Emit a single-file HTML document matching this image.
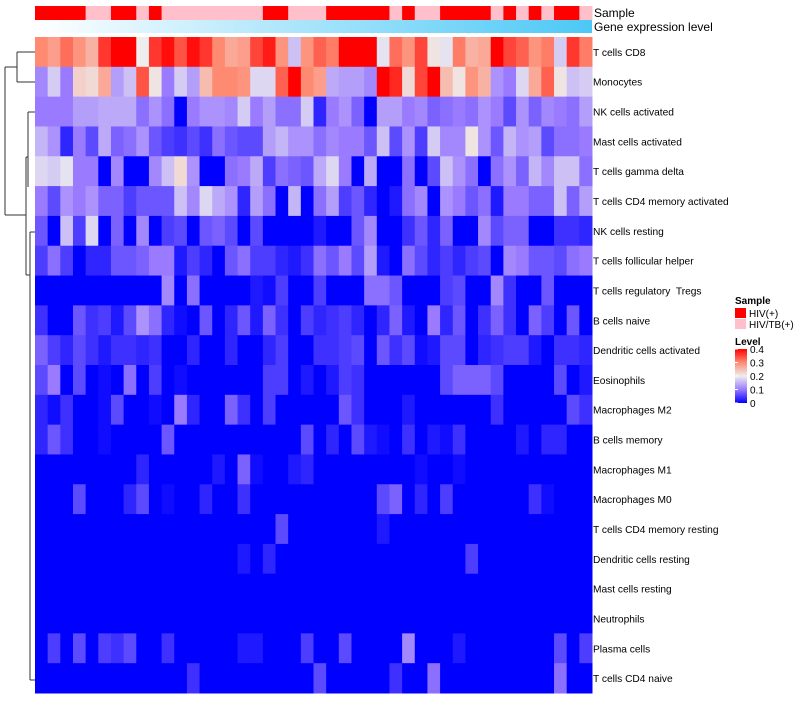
<!DOCTYPE html>
<html><head><meta charset="utf-8"><style>
body{margin:0;background:#fff;width:800px;height:700px;overflow:hidden}
svg text{font-family:"Liberation Sans",sans-serif;white-space:pre}
</style></head><body>
<svg id="chart" width="800" height="700" xmlns="http://www.w3.org/2000/svg">
<defs>
<linearGradient id="geneGrad" x1="0" x2="1" y1="0" y2="0"><stop offset="0" stop-color="#ffffff"/><stop offset="1" stop-color="#4cc8f6"/></linearGradient>
<linearGradient id="levelGrad" x1="0" x2="0" y1="1" y2="0"><stop offset="0" stop-color="#0000ff"/><stop offset="0.25" stop-color="#9a7bff"/><stop offset="0.5" stop-color="#eeeeee"/><stop offset="0.75" stop-color="#ff8a72"/><stop offset="1" stop-color="#ff0000"/></linearGradient>
</defs>
<g id="dendro" stroke="#333" stroke-width="1" fill="none">
<path d="M5,67V215M5,67H17M5,215H26M17,52V82M17,52H35M17,82H35M26,157V275M26,157H28M26,275H30M28,127V187M28,112H35M28,127V112M30,232V680M30,232H35M30,680H35"/>
</g>
<g id="cells"></g>
<g id="labels"></g>
<rect x="35" y="20" width="557" height="13" fill="url(#geneGrad)"/>
<text x="594" y="17" font-size="12">Sample</text>
<text x="594" y="31" font-size="12">Gene expression level</text>
<g>
<text x="735" y="304" font-size="10" font-weight="bold">Sample</text>
<rect x="735" y="308" width="11" height="10" fill="#ff0000"/>
<text x="749" y="317" font-size="10">HIV(+)</text>
<rect x="735" y="319" width="11" height="10" fill="#ffc0cb"/>
<text x="749" y="328" font-size="10">HIV/TB(+)</text>
<text x="735" y="345" font-size="10" font-weight="bold">Level</text>
<rect x="735" y="349" width="12" height="54" fill="url(#levelGrad)"/>
<g id="levelTicks"></g>
</g>
</svg>
<script>
const rowNames=["T cells CD8","Monocytes","NK cells activated","Mast cells activated","T cells gamma delta","T cells CD4 memory activated","NK cells resting","T cells follicular helper","T cells regulatory  Tregs","B cells naive","Dendritic cells activated","Eosinophils","Macrophages M2","B cells memory","Macrophages M1","Macrophages M0","T cells CD4 memory resting","Dendritic cells resting","Mast cells resting","Neutrophils","Plasma cells","T cells CD4 naive"];
const sampleGroups=[1,1,1,1,0,0,1,1,0,1,0,0,0,0,0,0,0,0,1,1,0,0,0,1,1,1,1,1,0,1,0,0,1,1,1,1,0,1,0,1,0,1,1,0];
const levelTicks=[0,0.1,0.2,0.3,0.4];
const r0=[0.3,0.28,0.32,0.29,0.26,0.36,0.4,0.4,0.2,0.36,0.39,0.34,0.39,0.36,0.3,0.27,0.28,0.35,0.38,0.29,0.16,0.29,0.33,0.31,0.4,0.4,0.4,0.19,0.32,0.29,0.35,0.21,0.19,0.31,0.26,0.27,0.4,0.35,0.33,0.29,0.31,0.17,0.36,0.31];
const r1=[0.11,0.17,0.1,0.23,0.22,0.27,0.13,0.16,0.34,0.21,0.1,0.17,0.13,0.25,0.3,0.3,0.29,0.18,0.18,0.33,0.4,0.3,0.28,0.14,0.13,0.13,0.11,0.4,0.37,0.22,0.35,0.4,0.25,0.21,0.29,0.26,0.12,0.1,0.18,0.27,0.33,0.21,0.16,0.17];
const r2=[0.1,0.1,0.1,0.13,0.13,0.14,0.14,0.14,0.09,0.12,0.09,0,0.1,0.12,0.12,0.11,0.17,0.1,0.13,0.09,0.09,0.17,0.03,0.1,0.12,0.08,0,0.13,0.13,0.1,0.11,0.08,0.09,0.1,0.09,0.12,0.1,0.06,0.12,0.08,0.11,0.1,0.09,0.13];
const r3=[0.15,0.12,0.03,0.1,0.06,0.14,0.08,0.09,0.12,0.07,0.05,0.04,0.06,0.04,0.09,0.07,0.06,0.06,0.13,0.15,0.12,0.12,0.09,0.11,0.1,0.1,0.07,0.16,0.06,0.12,0.05,0.17,0.11,0.11,0.21,0.12,0.07,0.15,0.12,0.13,0.06,0.09,0.09,0.1];
const r4=[0.18,0.17,0.19,0.1,0.1,0,0.11,0,0,0.11,0.16,0.22,0.12,0,0,0.09,0.1,0.14,0.05,0.09,0.08,0.07,0.14,0.18,0.1,0,0.14,0,0,0.09,0,0.06,0.16,0.12,0.09,0,0.09,0.12,0.08,0.15,0.11,0.16,0.16,0.09];
const r5=[0.1,0.06,0.12,0.1,0.12,0.08,0.08,0.05,0.07,0.07,0.07,0.16,0.11,0.18,0.14,0.12,0.03,0.13,0.09,0,0.15,0,0.09,0.13,0.05,0.07,0.03,0,0.02,0.09,0.11,0,0.12,0.1,0.07,0.09,0.02,0.1,0.1,0.08,0.08,0.16,0.08,0.13];
const r6=[0.07,0,0.16,0.05,0.18,0,0.08,0,0.11,0,0.05,0.06,0,0.07,0.08,0.06,0,0.06,0,0,0,0,0.02,0,0,0.07,0.11,0,0,0.04,0.07,0.03,0.08,0,0,0.11,0.06,0.08,0.08,0,0,0.04,0.04,0.03];
const r7=[0.05,0.09,0.05,0,0.03,0.03,0.07,0.07,0.08,0.1,0.1,0.02,0.05,0.03,0,0.07,0.09,0.05,0.05,0.03,0.02,0.04,0.09,0.07,0.1,0.06,0.13,0.02,0,0.09,0.06,0.03,0.05,0.03,0.05,0.06,0,0.11,0.1,0.07,0.07,0.06,0.09,0.1];
const r8=[0,0,0,0,0,0,0,0,0,0,0.11,0,0.09,0,0,0,0,0.02,0.01,0.05,0,0,0.05,0,0,0,0.09,0.09,0.07,0,0,0,0.05,0.06,0,0,0.11,0.04,0,0,0.07,0,0,0];
const r9=[0.04,0,0,0.07,0.04,0.05,0.02,0.06,0.12,0.09,0.03,0.01,0,0.07,0,0.03,0.07,0.02,0.08,0.04,0,0.05,0.03,0.04,0.05,0.03,0,0.03,0.08,0.02,0,0.1,0.03,0.07,0,0.04,0.08,0.04,0,0.08,0.05,0,0.07,0];
const r10=[0.08,0.05,0.03,0.06,0.04,0.02,0.04,0.04,0.03,0.04,0,0,0.03,0,0,0.03,0,0,0.03,0.05,0,0,0.04,0.04,0.05,0.06,0,0.07,0.04,0.06,0.01,0.02,0.06,0.06,0,0.03,0.04,0.05,0.05,0.02,0,0.04,0.04,0.03];
const r11=[0.06,0.1,0,0.06,0,0.01,0,0.09,0,0.05,0,0.01,0,0,0,0,0,0,0.05,0.05,0,0.02,0,0.02,0.05,0.04,0,0,0,0,0,0,0.06,0.08,0.08,0.08,0.06,0,0,0,0,0.06,0,0.02];
const r12=[0.03,0.01,0.04,0,0,0.01,0.06,0,0,0.01,0,0.1,0.03,0,0,0.08,0.04,0,0.05,0,0,0,0,0,0.07,0.04,0,0,0,0.02,0,0,0,0,0,0,0.04,0,0,0,0,0,0.06,0.04];
const r13=[0.03,0.07,0.04,0,0,0.01,0,0,0,0,0.07,0,0,0,0,0,0,0,0,0,0,0.06,0,0.03,0,0.06,0.02,0.01,0,0.04,0,0.02,0.01,0.04,0,0,0,0,0.02,0,0.03,0.03,0,0];
const r14=[0,0,0,0,0,0,0,0,0.03,0,0,0,0,0,0.02,0,0.08,0.01,0,0,0.02,0.03,0,0,0,0,0,0,0,0,0.01,0,0,0.01,0,0,0,0,0,0,0,0,0,0];
const r15=[0,0,0,0.06,0,0,0,0.03,0.06,0,0.01,0,0,0.03,0,0,0.04,0,0,0,0,0,0,0,0,0,0,0.06,0.08,0,0.03,0,0.05,0,0,0,0,0,0,0.04,0.01,0,0,0];
const r16=[0,0,0,0,0,0,0,0,0,0,0,0,0,0,0,0,0,0,0,0.06,0,0,0,0,0,0,0,0.02,0,0,0,0,0,0,0,0,0,0,0,0,0,0,0,0];
const r17=[0,0,0,0,0,0,0,0,0,0,0,0,0,0,0,0,0.02,0,0.03,0,0,0,0,0,0,0,0,0,0,0,0,0,0,0,0.05,0,0,0,0,0,0,0,0,0];
const r18=[0,0,0,0,0,0,0,0,0,0,0,0,0,0,0,0,0,0,0,0,0,0,0,0,0,0,0,0,0,0,0,0,0,0,0,0,0,0,0,0,0,0,0,0];
const r19=[0,0,0,0,0,0,0,0,0,0,0,0,0,0,0,0,0,0,0,0,0,0,0,0,0,0,0,0,0,0,0,0,0,0,0,0,0,0,0,0,0,0,0,0];
const r20=[0,0.05,0,0.06,0,0.05,0.04,0.06,0,0,0.04,0,0,0,0,0,0.02,0.02,0,0,0,0.05,0,0,0.06,0,0,0,0,0.11,0,0,0,0.02,0,0,0,0,0,0,0,0.06,0,0.05];
const r21=[0,0,0,0,0,0,0,0,0,0,0,0,0.04,0,0,0,0,0,0,0,0,0,0.06,0,0,0,0,0,0.04,0,0,0.09,0,0,0,0,0,0,0,0,0,0.09,0,0];
const values=[r0,r1,r2,r3,r4,r5,r6,r7,r8,r9,r10,r11,r12,r13,r14,r15,r16,r17,r18,r19,r20,r21];

const NS="http://www.w3.org/2000/svg";
const X0=35,X1=592,Y0=37,Y1=693;
const nCol=sampleGroups.length,nRow=rowNames.length;
const cw=(X1-X0)/nCol,rh=(Y1-Y0)/nRow;
const xPos=i=>X0+i*cw, yPos=j=>Y0+j*rh;
const stops=[[0,[0,0,255]],[0.1,[154,123,255]],[0.2,[238,238,238]],[0.3,[255,138,114]],[0.4,[255,0,0]]];
function color(v){
  const t=Math.max(0,Math.min(0.4,v));
  let k=0;while(k<stops.length-2&&t>stops[k+1][0])k++;
  const [t0,a]=stops[k],[t1,b]=stops[k+1];
  const f=(t-t0)/(t1-t0);
  const c=a.map((x,n)=>Math.round(x+(b[n]-x)*f));
  return `rgb(${c[0]},${c[1]},${c[2]})`;
}
const cells=document.getElementById('cells');
sampleGroups.forEach((g,i)=>{
  const r=document.createElementNS(NS,'rect');
  r.setAttribute('x',xPos(i));r.setAttribute('y',6);r.setAttribute('width',cw+0.5);r.setAttribute('height',14);
  r.setAttribute('fill',g?'#ff0000':'#ffc0cb');
  
  
  cells.appendChild(r);
});
values.forEach((row,j)=>{
  row.forEach((v,i)=>{
    const r=document.createElementNS(NS,'rect');
    r.setAttribute('x',xPos(i));r.setAttribute('y',yPos(j));r.setAttribute('width',cw+0.5);r.setAttribute('height',rh+0.5);
    r.setAttribute('fill',color(v));
    
    
    cells.appendChild(r);
  });
});
const labels=document.getElementById('labels');
rowNames.forEach((n,j)=>{
  const t=document.createElementNS(NS,'text');
  t.setAttribute('x',593);t.setAttribute('y',yPos(j)+rh/2+4);t.setAttribute('font-size','10.2');
  t.textContent=n;
  
  
  labels.appendChild(t);
});
const lt=document.getElementById('levelTicks');
levelTicks.forEach(v=>{
  const y=403-v/0.4*54;
  const t=document.createElementNS(NS,'text');
  t.setAttribute('x',750);t.setAttribute('y',y+4);t.setAttribute('font-size','10');
  t.textContent=String(v);
  
  
  lt.appendChild(t);
  const l=document.createElementNS(NS,'line');
  l.setAttribute('x1',735);l.setAttribute('x2',738);l.setAttribute('y1',y);l.setAttribute('y2',y);l.setAttribute('stroke','#fff');
  
  
  lt.appendChild(l);
});
</script>
</body></html>
